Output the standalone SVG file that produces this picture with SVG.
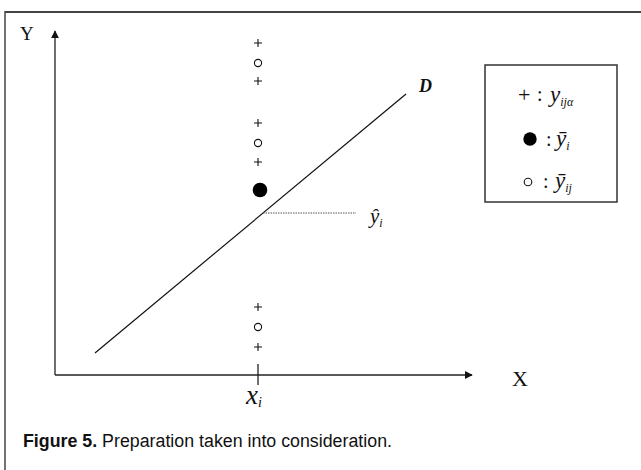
<svg xmlns="http://www.w3.org/2000/svg" width="641" height="470" viewBox="0 0 641 470">
<style>
.ax{stroke:#222;stroke-width:1.3;fill:none}
.mk{stroke:#111;stroke-width:1.1;fill:none}
.serif{font-family:"Liberation Serif","Times New Roman",serif;fill:#111}
.it{font-style:italic}
.cap{font-family:"Liberation Sans",Arial,sans-serif;fill:#111}
</style>
<defs>
<marker id="arr" viewBox="0 0 10 10" refX="9" refY="5" markerWidth="8" markerHeight="8" markerUnits="userSpaceOnUse" orient="auto">
<path d="M0,0 L10,5 L0,10 Z" fill="#111"/>
</marker>
<path id="plus" d="M-4,0 H4 M0,-4 V4" class="mk"/>
<circle id="ring" r="3.6" class="mk"/>
</defs>
<rect width="641" height="470" fill="#fff"/>
<g id="frame" stroke="#444" fill="none">
<line x1="5" y1="12" x2="641" y2="12" stroke-width="2"/>
<line x1="5" y1="11" x2="5" y2="470" stroke-width="1.5"/>
</g>
<g id="connectors">
<line class="ax" x1="55" y1="375" x2="55" y2="31" marker-end="url(#arr)"/>
<line class="ax" x1="55" y1="375" x2="472" y2="375" marker-end="url(#arr)"/>
<line class="ax" x1="258" y1="364" x2="258" y2="385"/>
<line x1="95" y1="353" x2="406" y2="94" stroke="#111" stroke-width="1.2"/>
<line x1="263" y1="213" x2="356" y2="213" stroke="#555" stroke-width="1" stroke-dasharray="1.5 1"/>
</g>
<g id="points">
<use href="#plus" x="258" y="43"/>
<use href="#ring" x="258" y="63"/>
<use href="#plus" x="258" y="81"/>
<use href="#plus" x="258" y="123"/>
<use href="#ring" x="258" y="143"/>
<use href="#plus" x="258" y="162"/>
<circle cx="260" cy="190" r="7.3" fill="#000"/>
<use href="#plus" x="258" y="307"/>
<use href="#ring" x="258" y="327"/>
<use href="#plus" x="258" y="347"/>
</g>
<g id="labels" class="serif">
<text x="20" y="40" font-size="19">Y</text>
<text x="512" y="386" font-size="22">X</text>
<text x="246" y="404" font-size="27" class="it">x<tspan font-size="14" dy="3">i</tspan></text>
<text x="370" y="223" font-size="21" class="it">ŷ<tspan font-size="12" dy="4">i</tspan></text>
<text x="419" y="92" font-size="18" class="it" font-weight="bold">D</text>
</g>
<g id="legend">
<rect x="485" y="65" width="132" height="137" fill="#fff" stroke="#333" stroke-width="1.5"/>
<text class="serif" x="518" y="102" font-size="22">+</text>
<text class="serif" x="537" y="101" font-size="20">:</text>
<text class="serif it" x="550" y="102" font-size="23">y<tspan font-size="12" dy="4">ijα</tspan></text>
<circle cx="530" cy="139" r="6.7" fill="#000"/>
<text class="serif" x="546" y="146" font-size="20">:</text>
<text class="serif it" x="556" y="146" font-size="23">ȳ<tspan font-size="12" dy="4">i</tspan></text>
<circle cx="528" cy="182" r="3.8" class="mk"/>
<text class="serif" x="543" y="188" font-size="20">:</text>
<text class="serif it" x="555" y="188" font-size="23">ȳ<tspan font-size="12" dy="4">ij</tspan></text>
</g>
<g id="caption">
<text class="cap" x="23" y="447" font-size="18" textLength="369" lengthAdjust="spacingAndGlyphs"><tspan font-weight="bold">Figure 5.</tspan> Preparation taken into consideration.</text>
</g>
</svg>
